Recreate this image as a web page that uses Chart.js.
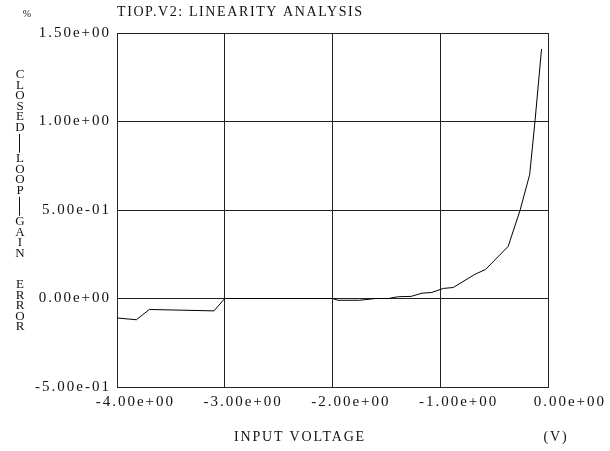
<!DOCTYPE html>
<html>
<head>
<meta charset="utf-8">
<script src="https://cdn.jsdelivr.net/npm/chart.js@4"></script>
<style>
  html, body { margin: 0; padding: 0; background: #fff; }
  #wrap { width: 610px; height: 451px; }
</style>
</head>
<body>
<div id="wrap"><canvas id="chart" width="610" height="451"></canvas></div>
<script>
const title = "TIOP.V2: LINEARITY ANALYSIS";
const corner = "%";
const yTitle = "CLOSED|LOOP|GAIN ERROR";
const xTitle = "INPUT VOLTAGE";
const xUnit = "(V)";

// Curve
const voltage = [-4.00, -3.82, -3.70, -3.10, -3.00, -2.00, -1.95, -1.75, -1.60, -1.48, -1.39, -1.27,
  -1.17, -1.08, -0.97, -0.88, -0.68, -0.58, -0.37, -0.26, -0.17, -0.12, -0.06];
const gainError = [-0.110, -0.120, -0.062, -0.070, 0.000, 0.000, -0.010, -0.010, 0.000, 0.000, 0.010, 0.012,
  0.030, 0.034, 0.057, 0.062, 0.136, 0.164, 0.294, 0.497, 0.700, 1.006, 1.410];

const xTicks = [-4, -3, -2, -1, 0];
const yTicks = [-0.5, 0, 0.5, 1.0, 1.5];

const FONT = '"Liberation Serif", "Times New Roman", serif';
const INK = "#111";

// 1.50e+00 style labels
function sci(v) {
  const parts = v.toExponential(2).split("e");
  const sign = parts[1][0];
  const digits = parts[1].slice(1).padStart(2, "0");
  return parts[0] + "e" + sign + digits;
}

const textPlugin = {
  id: "textPlugin",
  beforeDraw(chart) {
    chart.ctx.letterSpacing = "2px";
  },
  afterDraw(chart) {
    const ctx = chart.ctx;
    const area = chart.chartArea;
    ctx.save();
    ctx.fillStyle = INK;
    ctx.strokeStyle = INK;
    ctx.textBaseline = "middle";

    // title
    ctx.font = "14px " + FONT;
    ctx.letterSpacing = "1.6px";
    ctx.textAlign = "left";
    ctx.fillText(title, area.left, 12);

    // corner mark
    ctx.font = "10px " + FONT;
    ctx.letterSpacing = "0px";
    ctx.textAlign = "center";
    ctx.fillText(corner, 27, 14);

    // stacked y title
    ctx.font = "13px " + FONT;
    const x0 = 19, y0 = 75, step = 10.5;
    let slot = 0;
    for (const ch of yTitle) {
      if (ch === "|") {
        ctx.lineWidth = 1;
        ctx.beginPath();
        ctx.moveTo(x0 + 0.5, y0 + (slot - 0.4) * step);
        ctx.lineTo(x0 + 0.5, y0 + (slot + 1.4) * step);
        ctx.stroke();
        slot += 2;
      } else if (ch === " ") {
        slot += 2;
      } else {
        ctx.fillText(ch, x0 + 1, y0 + slot * step);
        slot += 1;
      }
    }

    // x title and unit
    ctx.font = "14px " + FONT;
    ctx.letterSpacing = "1.8px";
    ctx.textAlign = "center";
    ctx.fillText(xTitle, 300, 437);
    ctx.fillText(xUnit, 556, 437);
    ctx.restore();
  }
};

const points = voltage.map((v, i) => ({ x: v, y: gainError[i] }));

new Chart(document.getElementById("chart"), {
  type: "line",
  data: {
    datasets: [{
      data: points,
      borderColor: "#000",
      borderWidth: 1,
      pointRadius: 0,
      tension: 0,
      fill: false
    }]
  },
  options: {
    responsive: false,
    animation: false,
    devicePixelRatio: 1,
    layout: { padding: { left: 0, top: 33, right: 62, bottom: 0 } },
    plugins: {
      legend: { display: false },
      tooltip: { enabled: false },
      title: { display: false }
    },
    scales: {
      x: {
        type: "linear",
        min: -4,
        max: 0,
        afterBuildTicks: s => { s.ticks = xTicks.map(v => ({ value: v })); },
        afterFit: s => { s.height = 64; },
        grid: { color: "#222", lineWidth: 1, drawTicks: false },
        border: { display: true, color: "#222", width: 1 },
        ticks: {
          callback: v => sci(v),
          color: INK,
          font: { family: FONT, size: 15 },
          align: "end",
          labelOffset: 58,
          padding: 6,
          maxRotation: 0,
          autoSkip: false
        }
      },
      y: {
        min: -0.5,
        max: 1.5,
        afterBuildTicks: s => { s.ticks = yTicks.map(v => ({ value: v })); },
        afterFit: s => { s.width = 117; },
        grid: { color: "#222", lineWidth: 1, drawTicks: false },
        border: { display: true, color: "#222", width: 1 },
        ticks: {
          callback: v => sci(v),
          color: INK,
          font: { family: FONT, size: 15 },
          padding: 6,
          autoSkip: false
        }
      }
    }
  },
  plugins: [textPlugin]
});
</script>
</body>
</html>
